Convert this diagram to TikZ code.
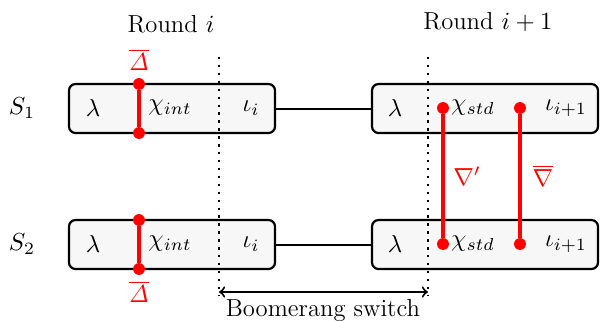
\documentclass[tikz,border=0pt]{standalone}
\usepackage{fix-cm}
\usetikzlibrary{fit}
\begin{document}
\begin{tikzpicture}[x=0.4545pt,y=-0.4545pt,
  every node/.style={font=\fontsize{11.2}{13}\selectfont},
  state/.style={draw=black, line width=1pt, rounded corners=3pt, fill=black!3, inner sep=0pt},
  link/.style={line width=0.9pt},
  trail/.style={red, line width=1.4pt},
  pin/.style={circle, fill=red, inner sep=0pt, minimum size=5.4pt},
  cut/.style={line width=1.1pt, dash pattern=on 1.1pt off 2.5pt},
  lbl/.style={inner sep=1pt}]
\useasboundingbox (0,0) rectangle (600,320);

% round headings
\node (r1) at (171,24) {Round $i$};
\node (r2) at (488,22) {Round $i+1$};

% state rows
\node (s1) at (22,108) {$S_1$};
\node (s2) at (22,244) {$S_2$};

% boxes of round i and round i+1
\node[state, fit={(69,84) (275,133)}] (a1) {};
\node[state, fit={(372,84) (598,133)}] (b1) {};
\node[state, fit={(69,220) (275,269)}] (a2) {};
\node[state, fit={(372,220) (598,269)}] (b2) {};

\draw[link] (a1.east) -- (b1.west);
\draw[link] (a2.east) -- (b2.west);

% round separators
\coordinate (d1t) at (219,57);
\coordinate (d1b) at (219,296);
\coordinate (d2t) at (428,57);
\coordinate (d2b) at (428,296);
\draw[cut] (d1t) -- (d1b);
\draw[cut] (d2t) -- (d2b);

% box contents
\foreach \r/\y in {1/108, 2/244} {
  \node (la\r) at (93,\y) {$\lambda$};
  \node (xa\r) at (170,\y) {$\chi_{int}$};
  \node (ia\r) at (251,\y) {$\iota_i$};
  \node (lb\r) at (395,\y) {$\lambda$};
  \node (xb\r) at (473,\y) {$\chi_{std}$};
  \node (ib\r) at (566,\y) {$\iota_{i+1}$};
}

% differential trails
\node[pin] (p1t) at (139,84) {};
\node[pin] (p1b) at (139,133) {};
\node[pin] (p2t) at (139,220) {};
\node[pin] (p2b) at (139,269) {};
\draw[trail] (p1t) -- (p1b);
\draw[trail] (p2t) -- (p2b);
\node[red, lbl] (dt) at (139,60) {$\overline{\mathit{\Delta}}$};
\node[red, lbl] (db) at (139,292) {$\overline{\mathit{\Delta}}$};

\node[pin] (q1) at (443,108) {};
\node[pin] (q2) at (443,244) {};
\node[pin] (w1) at (520,108) {};
\node[pin] (w2) at (520,244) {};
\draw[trail] (q1) -- (q2);
\draw[trail] (w1) -- (w2);
\node[red, lbl] (nb) at (467,176) {$\nabla'$};
\node[red, lbl] (nw) at (543,176) {$\overline{\nabla}$};

% boomerang switch
\coordinate (sw1) at (219,292);
\coordinate (sw2) at (428,292);
\draw[link, <->] (sw1) -- (sw2);
\node (swl) at (323,310) {Boomerang switch};
\end{tikzpicture}
\end{document}
